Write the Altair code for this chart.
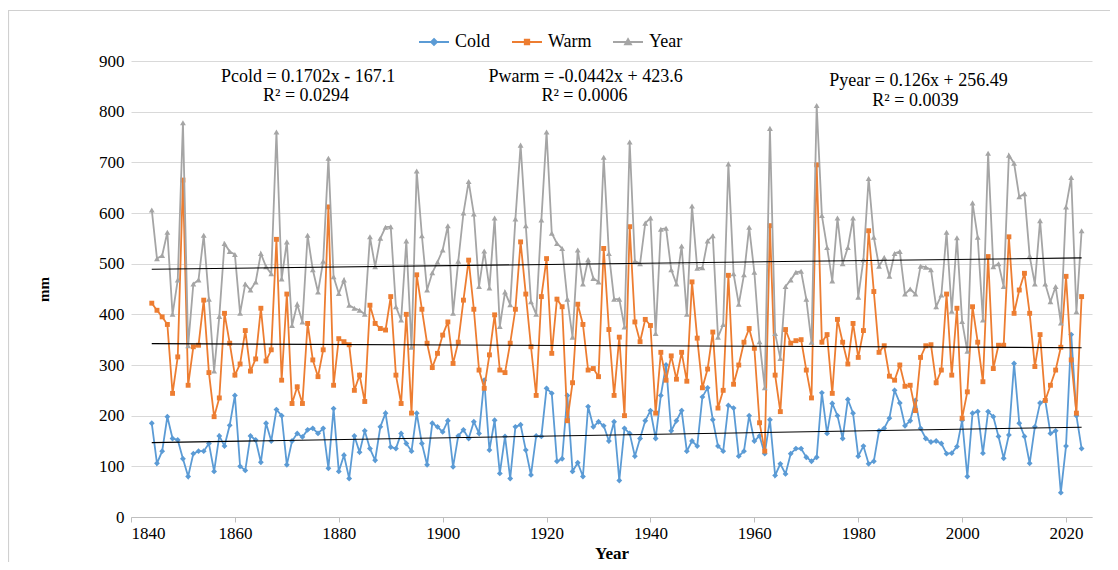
import altair as alt
import pandas as pd

first_year = 1844

cold = [
    185, 106, 130, 198, 155, 152,
    115, 80, 125, 130, 130, 145, 90, 160, 140, 181,
    240, 100, 92, 160, 152, 108, 185, 150, 212, 200,
    103, 150, 165, 158, 172, 175, 165, 175, 96, 214,
    90, 122, 76, 160, 128, 170, 135, 112, 178, 205,
    138, 135, 165, 145, 130, 205, 145, 103, 185, 178,
    168, 190, 99, 160, 172, 155, 188, 165, 270, 132,
    191, 86, 159, 76, 178, 182, 132, 83, 160, 159,
    254, 244, 110, 115, 240, 90, 107, 80, 218, 178,
    188, 180, 150, 188, 72, 175, 165, 120, 155, 190,
    210, 155, 240, 300, 170, 190, 210, 130, 150, 140,
    237, 255, 192, 140, 130, 220, 215, 120, 130, 200,
    150, 160, 125, 192, 82, 105, 85, 125, 135, 135,
    118, 110, 118, 245, 165, 224, 200, 155, 232, 205,
    120, 140, 105, 110, 170, 175, 195, 250, 225, 180,
    190, 230, 175, 155, 148, 150, 145, 125, 126, 139,
    191, 80, 205, 208, 126, 208, 198, 159, 116, 162,
    303, 185, 159, 106, 178, 225, 230, 165, 170, 48,
    140, 360, 200, 135,
]

warm = [
    422, 408, 395, 380, 244, 316,
    665, 260, 336, 339, 428, 285, 198, 235, 402, 343,
    280, 302, 368, 288, 312, 412, 308, 330, 548, 270,
    440, 224, 257, 224, 382, 310, 277, 330, 612, 260,
    352, 346, 340, 250, 280, 228, 418, 382, 372, 369,
    435, 280, 224, 400, 205, 478, 410, 343, 295, 323,
    359, 385, 303, 345, 428, 507, 410, 290, 254, 320,
    399, 290, 285, 343, 410, 543, 440, 336, 240, 435,
    510, 323, 430, 415, 190, 265, 420, 380, 290, 293,
    277, 530, 370, 240, 355, 200, 573, 385, 346, 390,
    378, 205, 325, 270, 318, 272, 325, 268, 464, 353,
    255, 292, 365, 215, 250, 477, 262, 300, 345, 372,
    333, 186, 130, 575, 280, 208, 370, 343, 348, 350,
    290, 235, 695, 345, 360, 244, 390, 345, 302, 382,
    315, 368, 565, 445, 325, 338, 278, 270, 300, 258,
    260, 210, 315, 338, 340, 265, 290, 440, 280, 412,
    195, 247, 415, 345, 267, 514, 293, 339, 339, 553,
    402, 448, 481, 402, 297, 360, 230, 260, 290, 335,
    475, 310, 205, 435,
]

year_total = [
    606, 510, 516, 562, 400, 468,
    778, 338, 460, 468, 556, 430, 288, 396, 540, 524,
    518, 402, 460, 448, 464, 520, 494, 480, 760, 470,
    543, 378, 420, 385, 556, 488, 444, 505, 708, 474,
    441, 468, 418, 412, 408, 400, 553, 494, 550, 572,
    573, 415, 389, 545, 335, 683, 555, 448, 482, 503,
    527, 575, 402, 505, 600, 662, 598, 455, 525, 452,
    590, 376, 444, 419, 588, 734, 575, 425, 400, 586,
    760, 560, 540, 530, 430, 355, 527, 460, 508, 471,
    464, 710, 520, 430, 430, 375, 740, 505, 500, 580,
    590, 362, 568, 570, 488, 460, 535, 400, 614, 491,
    492, 545, 555, 355, 380, 697, 480, 420, 478, 572,
    483, 346, 255, 767, 362, 313, 455, 468, 483, 485,
    430, 345, 812, 595, 532, 466, 590, 500, 532, 590,
    434, 508, 668, 552, 495, 512, 475, 520, 524, 440,
    450, 440, 495, 493, 488, 415, 438, 562, 406, 551,
    386, 327, 620, 552, 389, 718, 494, 500, 455, 714,
    698, 632, 638, 515, 460, 585, 460, 425, 455, 383,
    612, 670, 405, 565,
]

years = list(range(first_year, first_year + len(cold)))

series_names = ["Cold", "Warm", "Year"]
series_colors = ["#5B9BD5", "#ED7D31", "#A5A5A5"]
marker_shapes = ["diamond", "square", "triangle-up"]
marker_sizes = [34, 24, 34]
legend_paths = [
    "M-1,0H1M0,-0.2L0.2,0L0,0.2L-0.2,0Z",
    "M-1,0H1M-0.15,-0.15H0.15V0.15H-0.15Z",
    "M-1,0H1M0,-0.2L0.2,0.16L-0.2,0.16Z",
]

trend_slope = [0.1702, -0.0442, 0.126]
trend_intercept = [-167.1, 423.6, 256.49]

ann_text = [
    "Pcold = 0.1702x - 167.1", "R² = 0.0294",
    "Pwarm = -0.0442x + 423.6", "R² = 0.0006",
    "Pyear = 0.126x + 256.49", "R² = 0.0039",
]
ann_year = [1874.1, 1873.7, 1927.5, 1927.3, 1991.6, 1991.0]
ann_mm = [868, 830, 868, 830, 861, 822]

x_ticks = list(range(1840, 2021, 20))
y_ticks = list(range(0, 901, 100))

FONT = "Liberation Serif"

rows = []
for name, vals in zip(series_names, [cold, warm, year_total]):
    for yr, v in zip(years, vals):
        rows.append({"year": yr, "series": name, "value": v})
df = pd.DataFrame(rows)

trend_rows = []
for name, s, b in zip(series_names, trend_slope, trend_intercept):
    for yr in (years[0], years[-1]):
        trend_rows.append({"series": name, "year": yr, "slope": s, "intercept": b})
trend_df = pd.DataFrame(trend_rows)

ann_df = pd.DataFrame({"label": ann_text, "year": ann_year, "value": ann_mm})

x_scale = alt.Scale(domain=[1840, 2025], nice=False, zero=False)
y_scale = alt.Scale(domain=[0, 900], nice=False)

x_axis = alt.Axis(
    values=x_ticks, format="d", grid=False,
    domainColor="#BFBFBF", tickColor="#BFBFBF", tickSize=5,
    labelFont=FONT, labelFontSize=17, labelColor="black", labelPadding=3,
    title="Year", titleFont=FONT, titleFontSize=17, titleFontWeight="bold",
    titleColor="black", titleY=36, titleBaseline="middle",
)
y_axis = alt.Axis(
    values=y_ticks, grid=True, gridColor="#D9D9D9", gridWidth=1,
    domain=False, ticks=False,
    labelFont=FONT, labelFontSize=17, labelColor="black", labelPadding=7,
    title="mm", titleFont=FONT, titleFontSize=15, titleFontWeight="bold",
    titleColor="black", titleX=-88, titleY=228, titleAngle=270,
    titleAlign="center", titleBaseline="middle",
)

X = alt.X("year:Q", scale=x_scale, axis=x_axis)
Y = alt.Y("value:Q", scale=y_scale, axis=y_axis)

base = alt.Chart(df)

# thin light-grey frame around the whole chart area, as in the source figure
frame = alt.Chart(pd.DataFrame({"k": [0]})).mark_rect(
    fill="white", fillOpacity=0, stroke="#D0D0D0", strokeWidth=1.2
).encode(
    x=alt.value(-122.5), x2=alt.value(985), y=alt.value(-50.5), y2=alt.value(520)
)

series_layers = []
for name, col, shp, sz in zip(series_names, series_colors, marker_shapes, marker_sizes):
    sub = base.transform_filter(alt.datum.series == name)
    series_layers.append(sub.mark_line(strokeWidth=1.8, color=col).encode(x=X, y=Y))
    series_layers.append(
        sub.mark_point(shape=shp, filled=True, size=sz, opacity=1, color=col).encode(x=X, y=Y)
    )

legend_def = alt.Legend(
    orient="none", legendX=287, legendY=-35, direction="horizontal",
    title=None, symbolSize=900, symbolStrokeWidth=1.8, symbolOpacity=1,
    labelFont=FONT, labelFontSize=18, labelColor="black",
    labelOffset=5, columnPadding=17,
)
# legend-only layer: no rows survive the filter, the legend is built from the scale domains
legend_layer = base.transform_filter("false").mark_point(filled=True).encode(
    x=X, y=Y,
    fill=alt.Fill("series:N", scale=alt.Scale(domain=series_names, range=series_colors), legend=legend_def),
    stroke=alt.Stroke("series:N", scale=alt.Scale(domain=series_names, range=series_colors), legend=legend_def),
    shape=alt.Shape("series:N", scale=alt.Scale(domain=series_names, range=legend_paths), legend=legend_def),
)

trend = (
    alt.Chart(trend_df)
    .transform_calculate(value="datum.slope * datum.year + datum.intercept")
    .mark_line(color="black", strokeWidth=1.1)
    .encode(x=X, y=Y, detail="series:N")
)

notes = alt.Chart(ann_df).mark_text(
    font=FONT, fontSize=18, color="black", align="center", baseline="middle"
).encode(x=X, y=Y, text="label:N")

chart = (
    alt.layer(frame, *series_layers, legend_layer, trend, notes)
    .properties(
        width=961, height=456,
        autosize=alt.AutoSizeParams(type="none"),
        padding={"left": 123, "top": 53, "right": 18, "bottom": 45},
        background="white",
    )
    .configure_view(stroke=None)
)

chart.save("out.html", embed_options={"renderer": "svg", "actions": False})
